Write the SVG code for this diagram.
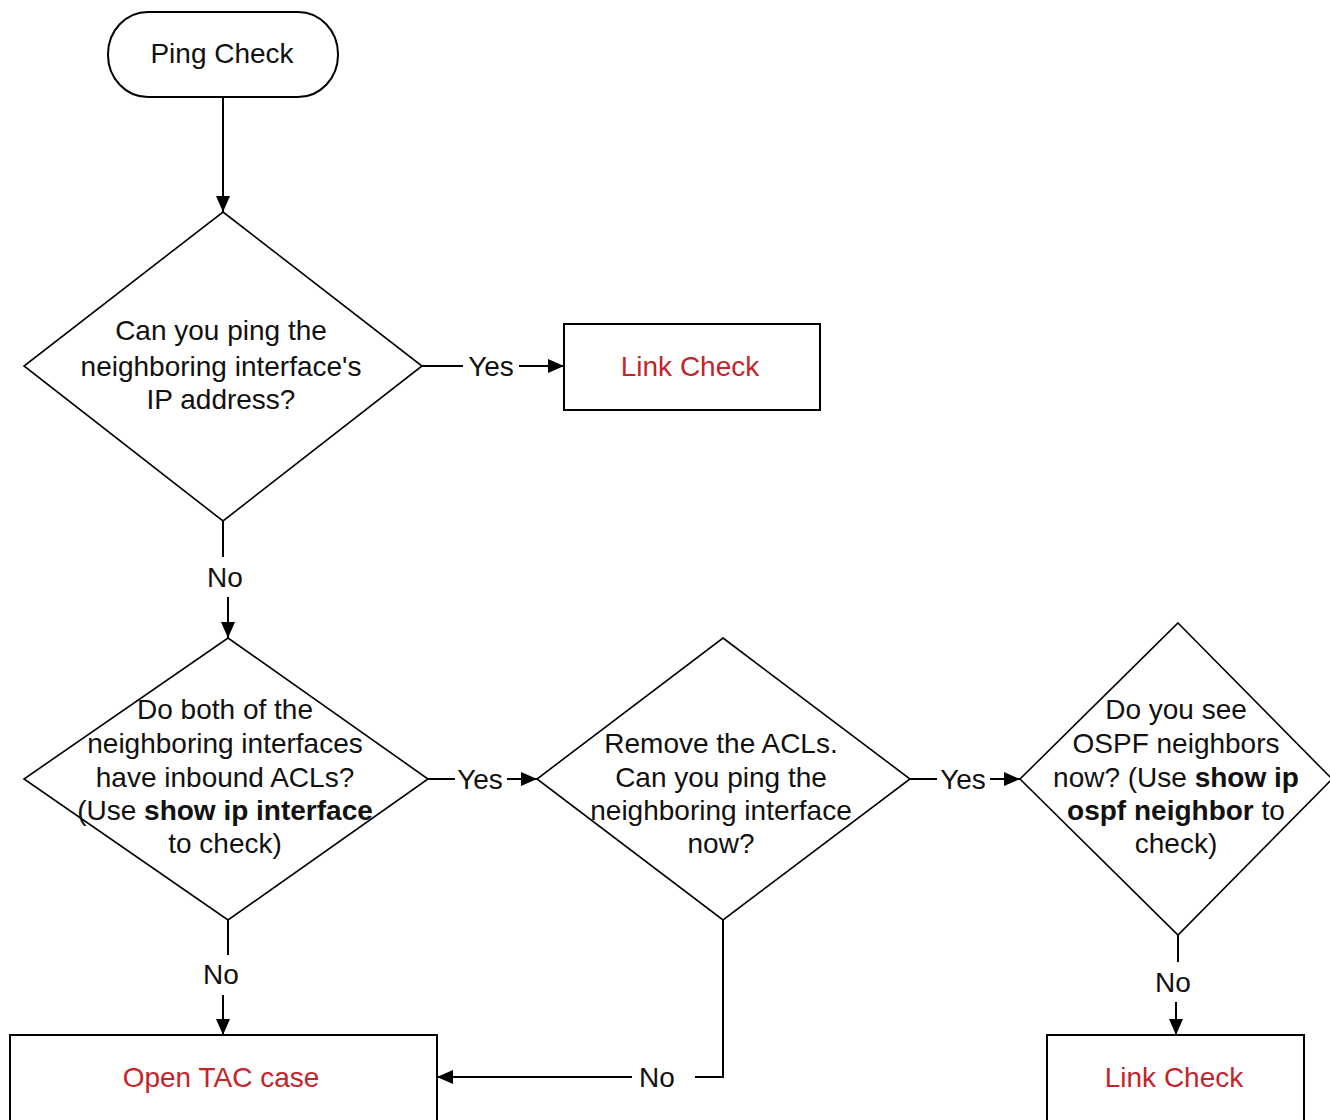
<svg xmlns="http://www.w3.org/2000/svg" width="1330" height="1120" viewBox="0 0 1330 1120">
<style>
.shape{fill:#ffffff;stroke:#000000;stroke-width:2}
.dia{fill:#ffffff;stroke:#000000;stroke-width:1.6}
.t{font-family:"Liberation Sans",Arial,sans-serif;font-size:28px;fill:#111111;text-anchor:middle}
.b{font-weight:bold}
.red{fill:#c4242c}
.conn line,.conn polyline{stroke:#000000;stroke-width:2;fill:none}
.arr{marker-end:url(#ah)}
</style>
<defs>
<marker id="ah" markerUnits="userSpaceOnUse" markerWidth="16" markerHeight="14" viewBox="0 0 16 14" refX="16" refY="7" orient="auto">
<path d="M0,0 L16,7 L0,14 Z" fill="#000000"/>
</marker>
</defs>
<rect width="1330" height="1120" fill="#ffffff"/>

<g id="connectors" class="conn">
<line class="arr" x1="223" y1="97" x2="223" y2="212"/>
<line x1="422" y1="366" x2="463" y2="366"/>
<line class="arr" x1="519" y1="366" x2="564" y2="366"/>
<line x1="223" y1="521" x2="223" y2="557"/>
<line class="arr" x1="228" y1="597" x2="228" y2="638"/>
<line x1="428" y1="779" x2="455" y2="779"/>
<line class="arr" x1="507" y1="779" x2="537" y2="779"/>
<line x1="910" y1="779" x2="937" y2="779"/>
<line class="arr" x1="990" y1="779" x2="1020" y2="779"/>
<line x1="228" y1="920" x2="228" y2="955"/>
<line class="arr" x1="223" y1="995" x2="223" y2="1035"/>
<line x1="1178" y1="935" x2="1178" y2="962"/>
<line class="arr" x1="1176" y1="1002" x2="1176" y2="1035"/>
<polyline points="723,920 723,1077 695,1077"/>
<line class="arr" x1="632" y1="1077" x2="437" y2="1077"/>
<text class="t" x="491" y="376">Yes</text>
<text class="t" x="225" y="587">No</text>
<text class="t" x="480" y="789">Yes</text>
<text class="t" x="963" y="789">Yes</text>
<text class="t" x="221" y="984">No</text>
<text class="t" x="1173" y="992">No</text>
<text class="t" x="657" y="1087">No</text>
</g>

<g id="ping-check">
<rect class="shape" x="108" y="12" width="230" height="85" rx="40" ry="42"/>
<text class="t" x="222" y="63">Ping Check</text>
</g>

<g id="can-ping">
<polygon class="dia" points="223,212 422,366 223,521 24,366"/>
<text class="t" x="221" y="340">Can you ping the</text>
<text class="t" x="221" y="376">neighboring interface's</text>
<text class="t" x="221" y="409">IP address?</text>
</g>

<g id="link-check-1">
<rect class="shape" x="564" y="324" width="256" height="86"/>
<text class="t red" x="690" y="376">Link Check</text>
</g>

<g id="inbound-acls">
<polygon class="dia" points="228,638 428,779 228,920 24,779"/>
<text class="t" x="225" y="719">Do both of the</text>
<text class="t" x="225" y="753">neighboring interfaces</text>
<text class="t" x="225" y="787">have inbound ACLs?</text>
<text class="t" x="225" y="820">(Use <tspan class="b">show ip interface</tspan></text>
<text class="t" x="225" y="853">to check)</text>
</g>

<g id="remove-acls">
<polygon class="dia" points="723,638 910,779 723,920 537,779"/>
<text class="t" x="721" y="753">Remove the ACLs.</text>
<text class="t" x="721" y="787">Can you ping the</text>
<text class="t" x="721" y="820">neighboring interface</text>
<text class="t" x="721" y="853">now?</text>
</g>

<g id="ospf-neighbors">
<polygon class="dia" points="1178,623 1332,779 1178,935 1020,779"/>
<text class="t" x="1176" y="719">Do you see</text>
<text class="t" x="1176" y="753">OSPF neighbors</text>
<text class="t" x="1176" y="787">now? (Use <tspan class="b">show ip</tspan></text>
<text class="t" x="1176" y="820"><tspan class="b">ospf neighbor</tspan>  to</text>
<text class="t" x="1176" y="853">check)</text>
</g>

<g id="open-tac">
<rect class="shape" x="10" y="1035" width="427" height="90"/>
<text class="t red" x="221" y="1087">Open TAC case</text>
</g>

<g id="link-check-2">
<rect class="shape" x="1047" y="1035" width="257" height="90"/>
<text class="t red" x="1174" y="1087">Link Check</text>
</g>
</svg>
